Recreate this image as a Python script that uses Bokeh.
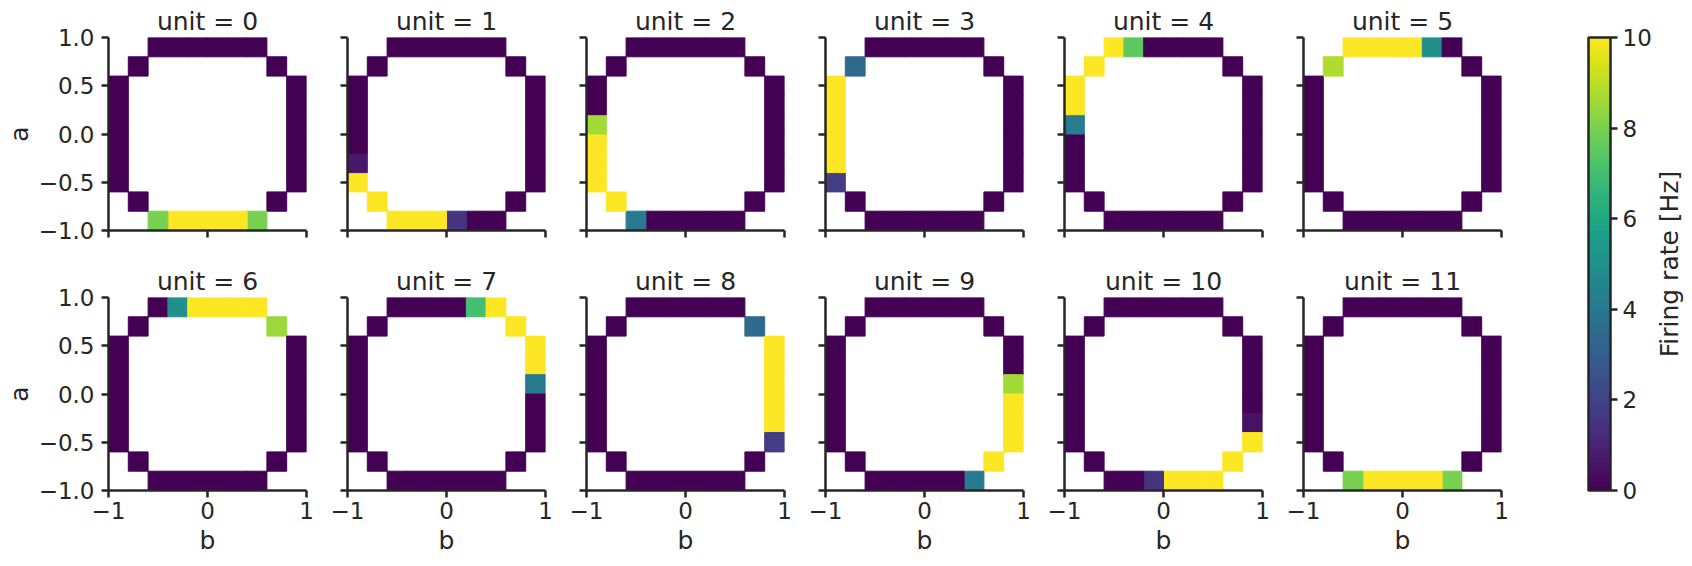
from bokeh.plotting import figure
from bokeh.models import (ColumnDataSource, LinearColorMapper, ColorBar, FixedTicker,
                          Range1d, Title)
from bokeh.palettes import Viridis256
from bokeh.transform import transform
from bokeh.layouts import row, column
from bokeh.embed import file_html
from bokeh.resources import INLINE

# ring of occupied (a, b) bins, clockwise from the top-left of the top row
ring_b = [-0.5, -0.3, -0.1, 0.1, 0.3, 0.5,
          0.7,
          0.9, 0.9, 0.9, 0.9, 0.9, 0.9,
          0.7,
          0.5, 0.3, 0.1, -0.1, -0.3, -0.5,
          -0.7,
          -0.9, -0.9, -0.9, -0.9, -0.9, -0.9,
          -0.7]
ring_a = [0.9, 0.9, 0.9, 0.9, 0.9, 0.9,
          0.7,
          0.5, 0.3, 0.1, -0.1, -0.3, -0.5,
          -0.7,
          -0.9, -0.9, -0.9, -0.9, -0.9, -0.9,
          -0.7,
          -0.5, -0.3, -0.1, 0.1, 0.3, 0.5,
          0.7]

rate_unit0 = [0, 0, 0, 0, 0, 0, 0, 0, 0, 0, 0, 0, 0, 0, 8.0, 10, 10, 10, 10, 8.0, 0, 0, 0, 0, 0, 0, 0, 0]
rate_unit1 = [0, 0, 0, 0, 0, 0, 0, 0, 0, 0, 0, 0, 0, 0, 0, 0, 1.5, 10, 10, 10, 10, 10, 0.7, 0, 0, 0, 0, 0]
rate_unit2 = [0, 0, 0, 0, 0, 0, 0, 0, 0, 0, 0, 0, 0, 0, 0, 0, 0, 0, 0, 4.1, 10, 10, 10, 10, 8.6, 0, 0, 0]
rate_unit3 = [0, 0, 0, 0, 0, 0, 0, 0, 0, 0, 0, 0, 0, 0, 0, 0, 0, 0, 0, 0, 0, 1.8, 10, 10, 10, 10, 10, 3.4]
rate_unit4 = [10, 7.5, 0, 0, 0, 0, 0, 0, 0, 0, 0, 0, 0, 0, 0, 0, 0, 0, 0, 0, 0, 0, 0, 0, 4.2, 10, 10, 10]
rate_unit5 = [10, 10, 10, 10, 5.0, 0, 0, 0, 0, 0, 0, 0, 0, 0, 0, 0, 0, 0, 0, 0, 0, 0, 0, 0, 0, 0, 0, 8.8]
rate_unit6 = [0, 5.0, 10, 10, 10, 10, 8.5, 0, 0, 0, 0, 0, 0, 0, 0, 0, 0, 0, 0, 0, 0, 0, 0, 0, 0, 0, 0, 0]
rate_unit7 = [0, 0, 0, 0, 7.0, 10, 10, 10, 10, 4.1, 0, 0, 0, 0, 0, 0, 0, 0, 0, 0, 0, 0, 0, 0, 0, 0, 0, 0]
rate_unit8 = [0, 0, 0, 0, 0, 0, 3.4, 10, 10, 10, 10, 10, 1.8, 0, 0, 0, 0, 0, 0, 0, 0, 0, 0, 0, 0, 0, 0, 0]
rate_unit9 = [0, 0, 0, 0, 0, 0, 0, 0, 0, 8.6, 10, 10, 10, 10, 4.1, 0, 0, 0, 0, 0, 0, 0, 0, 0, 0, 0, 0, 0]
rate_unit10 = [0, 0, 0, 0, 0, 0, 0, 0, 0, 0, 0, 0.5, 10, 10, 10, 10, 10, 1.5, 0, 0, 0, 0, 0, 0, 0, 0, 0, 0]
rate_unit11 = [0, 0, 0, 0, 0, 0, 0, 0, 0, 0, 0, 0, 0, 0, 8.0, 10, 10, 10, 10, 8.0, 0, 0, 0, 0, 0, 0, 0, 0]

units = [0, 1, 2, 3, 4, 5, 6, 7, 8, 9, 10, 11]
rates = [rate_unit0, rate_unit1, rate_unit2, rate_unit3, rate_unit4, rate_unit5,
         rate_unit6, rate_unit7, rate_unit8, rate_unit9, rate_unit10, rate_unit11]

x_ticks = [-1, 0, 1]
x_tick_labels = ["\u22121", "0", "1"]
y_ticks = [-1.0, -0.5, 0.0, 0.5, 1.0]
y_tick_labels = ["\u22121.0", "\u22120.5", "0.0", "0.5", "1.0"]
cb_ticks = [0, 2, 4, 6, 8, 10]
rate_low, rate_high = 0, 10
x_label, y_label, cb_label = "b", "a", "Firing rate [Hz]"

INK = "#262626"
FONT = "DejaVu Sans"
TICK_FS = "23px"
LABEL_FS = "25px"
FW, FH = 198, 193

mapper = LinearColorMapper(palette=Viridis256, low=rate_low, high=rate_high)


def text_title(text, **kw):
    return Title(text=text, text_font=FONT, text_font_size=LABEL_FS,
                 text_font_style="normal", text_color=INK, align="center", **kw)


def style_axis(ax):
    ax.axis_line_color = INK
    ax.axis_line_width = 2.5
    ax.major_tick_line_color = INK
    ax.major_tick_line_width = 2.5
    ax.major_tick_out = 7
    ax.major_tick_in = 0
    ax.minor_tick_line_color = None
    ax.major_label_text_font = FONT
    ax.major_label_text_font_size = TICK_FS
    ax.major_label_text_color = INK


def make_panel(k, r, c):
    p = figure(frame_width=FW, frame_height=FH,
               x_range=Range1d(-1, 1), y_range=Range1d(-1, 1),
               output_backend="svg", toolbar_location=None,
               min_border_left=108 if c == 0 else 31, min_border_right=10,
               min_border_top=37 if r == 0 else 34,
               min_border_bottom=33 if r == 0 else 75)
    p.add_layout(text_title(f"unit = {units[k]}", standoff=3), "above")
    p.background_fill_color = "white"
    p.border_fill_color = "white"
    p.outline_line_color = None
    p.grid.visible = False

    src = ColumnDataSource(dict(a=ring_a, b=ring_b, rate=rates[k]))
    p.rect(x="b", y="a", width=0.2, height=0.2, source=src,
           fill_color=transform("rate", mapper),
           line_color=transform("rate", mapper), line_width=1)

    xa, ya = p.xaxis[0], p.yaxis[0]
    style_axis(xa)
    style_axis(ya)
    xa.ticker = FixedTicker(ticks=x_ticks)
    ya.ticker = FixedTicker(ticks=y_ticks)
    ya.major_label_standoff = 7
    if r == 1:
        xa.major_label_standoff = 4
        xa.major_label_overrides = dict(zip(x_ticks, x_tick_labels))
        p.add_layout(text_title(x_label, standoff=8, vertical_align="top"), "below")
    else:
        xa.major_label_standoff = 1
        xa.major_label_overrides = {t: "" for t in x_ticks}
    if c == 0:
        ya.major_label_overrides = dict(zip(y_ticks, y_tick_labels))
        p.add_layout(text_title(y_label, standoff=4), "left")
    else:
        ya.major_label_overrides = {t: "" for t in y_ticks}
    return p


rows = []
for r in range(2):
    figs = [make_panel(r * 6 + c, r, c) for c in range(6)]
    rows.append(row(*figs, spacing=0))
grid = column(*rows, spacing=0)

# colour bar figure: its frame is the bar itself
cbf = figure(frame_width=22, frame_height=453, x_range=Range1d(0, 1),
             y_range=Range1d(rate_low, rate_high), output_backend="svg",
             toolbar_location=None, x_axis_location=None, y_axis_location=None,
             min_border_left=77, min_border_right=42,
             min_border_top=37, min_border_bottom=60)
cbf.grid.visible = False
cbf.outline_line_color = None
cbf.background_fill_color = "white"
cbf.border_fill_color = "white"

cb = ColorBar(color_mapper=mapper, ticker=FixedTicker(ticks=cb_ticks),
              location=(0, 0), orientation="vertical", width=22, height=453,
              padding=0, margin=0, major_tick_out=7, major_tick_in=0,
              major_tick_line_color=INK, major_tick_line_width=2.5,
              minor_tick_line_color=None, label_standoff=5,
              major_label_text_font=FONT, major_label_text_font_size=TICK_FS,
              major_label_text_color=INK, bar_line_color=INK, bar_line_width=2.5,
              background_fill_color=None, border_line_color=None)
cbf.add_layout(cb, "center")

# colour bar label: a side title of a slim companion figure (reads upwards)
lab = figure(frame_width=1, frame_height=453, x_range=Range1d(0, 1),
             y_range=Range1d(rate_low, rate_high), output_backend="svg",
             toolbar_location=None, x_axis_location=None, y_axis_location=None,
             min_border_left=20, min_border_right=0,
             min_border_top=37, min_border_bottom=60)
lab.grid.visible = False
lab.outline_line_color = None
lab.background_fill_color = "white"
lab.border_fill_color = "white"
lab.add_layout(text_title(cb_label, standoff=0), "left")

layout = row(grid, cbf, lab, spacing=0)

open("out.html", "w").write(file_html(layout, INLINE))
